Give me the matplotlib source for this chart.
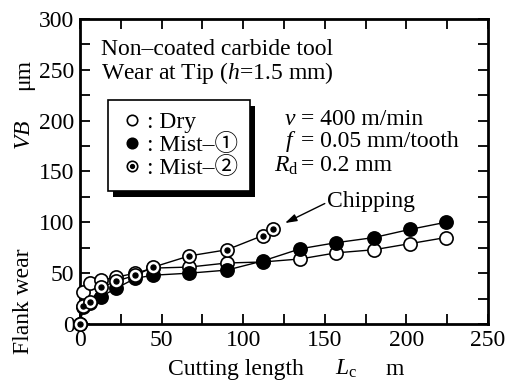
import matplotlib
matplotlib.use("Agg")
import matplotlib.pyplot as plt
from matplotlib.lines import Line2D
from matplotlib.patches import Rectangle
from matplotlib.transforms import IdentityTransform
from matplotlib.ticker import MultipleLocator
from matplotlib.font_manager import FontProperties

plt.rcParams['font.family'] = ['Liberation Serif', 'Noto Sans CJK JP', 'DejaVu Sans']
plt.rcParams['mathtext.fontset'] = 'custom'
plt.rcParams['mathtext.rm'] = 'Liberation Serif'
plt.rcParams['mathtext.it'] = 'Liberation Serif:italic'

# ---- data (cutting length in m, flank wear VB in um) ----
length_dry = [0, 2, 6, 13, 22, 34, 45, 67, 90, 112, 135, 157, 180, 202, 224]
wear_dry = [0, 31, 40, 43, 46, 50, 55, 56, 60, 61, 64, 70, 73, 79, 85]
length_mist1 = [0, 2, 6, 13, 22, 34, 45, 67, 90, 112, 135, 157, 180, 202, 224]
wear_mist1 = [0, 17, 21, 27, 35, 45, 48, 50, 53, 62, 74, 80, 85, 93, 100]
length_mist2 = [0, 2, 6, 13, 22, 34, 45, 67, 90, 112, 118]
wear_mist2 = [0, 18, 22, 36, 42, 48, 56, 67, 73, 87, 93]
labels = [": Dry", ": Mist\u2013\u2460", ": Mist\u2013\u2461"]

FS = 17
W, H = 507, 383
fig = plt.figure(figsize=(W / 100, H / 100), dpi=100)
ax = fig.add_axes([80 / W, 1 - 324 / H, 408 / W, 305 / H])

ms = 9.5
ax.plot(length_dry, wear_dry, '-o', color='k', lw=1, mfc='white', mec='k', ms=ms, mew=1.2,
        zorder=3, clip_on=False)
ax.plot(length_mist1, wear_mist1, '-o', color='k', lw=1, mfc='k', mec='k', ms=ms, mew=1.2,
        zorder=3.2, clip_on=False)
ax.plot(length_mist2, wear_mist2, '-o', color='k', lw=1, mfc='white', mec='k', ms=ms, mew=1.2,
        zorder=3.4, clip_on=False)
ax.plot(length_mist2, wear_mist2, 'o', color='k', ms=3.6, zorder=3.5, clip_on=False)

ax.set_xlim(0, 250)
ax.set_ylim(0, 300)
ax.xaxis.set_major_locator(MultipleLocator(50))
ax.xaxis.set_minor_locator(MultipleLocator(25))
ax.yaxis.set_major_locator(MultipleLocator(50))
ax.yaxis.set_minor_locator(MultipleLocator(25))
ax.tick_params(which='both', direction='in', top=True, right=True, length=7, width=1.3,
               labelsize=FS, pad=4)
for s in ax.spines.values():
    s.set_linewidth(2)

# legend
h_dry = Line2D([], [], ls='none', marker='o', mfc='white', mec='k', ms=7.5, mew=1.2)
h_m1 = Line2D([], [], ls='none', marker='o', mfc='k', mec='k', ms=7.5, mew=1.2)
h_m2a = Line2D([], [], ls='none', marker='o', mfc='white', mec='k', ms=7.5, mew=1.2)
h_m2b = Line2D([], [], ls='none', marker='o', mfc='k', mec='k', ms=2.8)
fp = FontProperties(family=['Liberation Serif', 'Noto Sans CJK JP', 'DejaVu Sans'], size=FS)
leg = ax.legend([h_dry, h_m1, (h_m2a, h_m2b)], labels, loc='upper left',
                bbox_to_anchor=(28 / 408, (324 - 100) / 305), borderaxespad=0,
                frameon=True, fancybox=False, edgecolor='k', framealpha=1,
                handlelength=1.0, handletextpad=0.15, labelspacing=0.04, borderpad=0.5,
                prop=fp)
leg.get_frame().set_linewidth(1.2)
leg.set_zorder(10)

# texts inside
ax.text(13, 241, "Non\u2013coated carbide tool\nWear at Tip ($h$=1.5 mm)", fontsize=FS,
        ha='left', va='baseline', linespacing=0.98)

xl, xr = 132.4, 135.5
ax.text(xl, 195.7, "$v$", fontsize=FS, ha='right', va='baseline')
ax.text(xr, 195.7, "= 400 m/min", fontsize=FS, ha='left', va='baseline')
ax.text(xl, 174, "$f$", fontsize=FS, ha='right', va='baseline')
ax.text(xr, 174, "= 0.05 mm/tooth", fontsize=FS, ha='left', va='baseline')
ax.text(xl + 1.5, 150, r"$R_{\rm d}$", fontsize=FS, ha='right', va='baseline')
ax.text(xr, 150, "= 0.2 mm", fontsize=FS, ha='left', va='baseline')

ax.text(151.3, 115, "Chipping", fontsize=FS, ha='left', va='baseline')
ax.annotate('', xy=(125.6, 99.3), xytext=(150, 118.5),
            arrowprops=dict(arrowstyle='-|>,head_length=0.7,head_width=0.22', color='k',
                            lw=1, shrinkA=0, shrinkB=0))

# axis labels
fig.text(236 / W, 1 - 375 / H, "Cutting length", fontsize=FS, ha='center', va='baseline')
fig.text(346 / W, 1 - 375 / H, r"$L_{\rm c}$", fontsize=FS, ha='center', va='baseline')
fig.text(395 / W, 1 - 375 / H, "m", fontsize=FS, ha='center', va='baseline')
fig.text(24 / W, 1 - 301 / H, "Flank wear", fontsize=FS, rotation=90, ha='center', va='center')
fig.text(24 / W, 1 - 135 / H, "$VB$", fontsize=FS, rotation=90, ha='center', va='center')
fig.text(24 / W, 1 - 74 / H, "\u03bcm", fontsize=FS, rotation=90, ha='center', va='center')

# legend shadow
fig.canvas.draw()
bb = leg.get_frame().get_window_extent()
shadow = Rectangle((bb.x0 + 5, bb.y0 - 6), bb.width, bb.height, transform=IdentityTransform(),
                   facecolor='k', edgecolor='none', zorder=9, clip_on=False)
ax.add_artist(shadow)

fig.savefig("out.png", dpi=100)
